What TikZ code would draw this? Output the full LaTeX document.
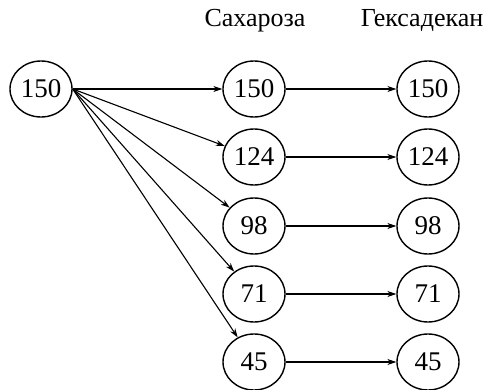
\documentclass[tikz,border=0pt]{standalone}
\usepackage{fontspec}
\setmainfont{Liberation Serif}
\usetikzlibrary{shapes.geometric,arrows.meta}
\tikzset{
  num/.style={ellipse,draw,line width=1.4pt,minimum width=62pt,minimum height=56pt,inner sep=0pt,font=\fontsize{27}{29}\selectfont},
  head/.style={font=\fontsize{26}{28}\selectfont},
  link/.style={line width=1.1pt,-{Stealth[length=9pt,width=6pt]}}
}
\begin{document}
\begin{tikzpicture}[x=1pt,y=-1pt]
\useasboundingbox (0,0) rectangle (487,390);
\node[head] (hs) at (255,21) {Сахароза};
\node[head] (hg) at (422,21) {Гексадекан};
\node[num] (src) at (41,89) {150};
\foreach \v/\y in {150/89,124/157,98/226,71/294,45/362}{
  \node[num] (m\v) at (254,\y) {\v};
  \node[num] (r\v) at (428,\y) {\v};
  \draw[link] (src.east) -- (m\v);
  \draw[link] (m\v) -- (r\v);
}
\end{tikzpicture}
\end{document}
